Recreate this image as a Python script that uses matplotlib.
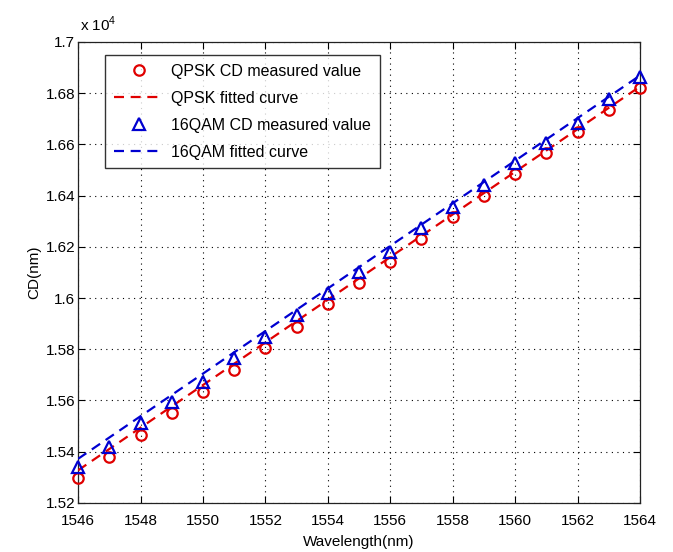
import matplotlib
matplotlib.use("Agg")
import matplotlib.pyplot as plt
import numpy as np

plt.rcParams['font.family'] = ['Liberation Sans', 'DejaVu Sans']

wavelength = [1546, 1547, 1548, 1549, 1550, 1551, 1552, 1553, 1554, 1555,
              1556, 1557, 1558, 1559, 1560, 1561, 1562, 1563, 1564]
qpsk_cd = [15298, 15380, 15466, 15552, 15634, 15720, 15805, 15888, 15977, 16059,
           16141, 16229, 16317, 16399, 16485, 16567, 16649, 16735, 16821]
qam16_cd = [15340, 15419, 15513, 15595, 15673, 15766, 15848, 15934, 16020, 16102,
            16180, 16274, 16356, 16442, 16528, 16606, 16684, 16778, 16864]
fit_wavelength = [1546, 1564]
qpsk_fit = [15327, 16826]
qam16_fit = [15372, 16869]

x_ticks = [1546, 1548, 1550, 1552, 1554, 1556, 1558, 1560, 1562, 1564]
y_ticks = [15200, 15400, 15600, 15800, 16000, 16200, 16400, 16600, 16800, 17000]
y_tick_labels = ['1.52', '1.54', '1.56', '1.58', '1.6', '1.62', '1.64', '1.66', '1.68', '1.7']

red = '#e00000'
blue = '#0000d0'
fs = 11

fig = plt.figure(figsize=(6.73, 5.52), dpi=100)
ax = fig.add_axes([0.116, 0.089, 0.835, 0.835])

ax.plot(wavelength, qpsk_cd, linestyle='none', marker='o', markersize=7.5,
        markerfacecolor='none', markeredgecolor=red, markeredgewidth=1.6,
        label='QPSK CD measured value', clip_on=False, zorder=3)
ax.plot(fit_wavelength, qpsk_fit, color=red, linestyle=(0, (4.5, 3)), linewidth=1.6,
        label='QPSK fitted curve', zorder=3)
ax.plot(wavelength, qam16_cd, linestyle='none', marker='^', markersize=8,
        markerfacecolor='none', markeredgecolor=blue, markeredgewidth=1.6,
        label='16QAM CD measured value', clip_on=False, zorder=3)
ax.plot(fit_wavelength, qam16_fit, color=blue, linestyle=(0, (4.5, 3)), linewidth=1.6,
        label='16QAM fitted curve', zorder=3)

ax.set_xlim(1546, 1564)
ax.set_ylim(15200, 17000)
ax.set_xticks(x_ticks)
ax.set_xticklabels([str(v) for v in x_ticks])
ax.set_yticks(y_ticks)
ax.set_yticklabels(y_tick_labels)
ax.tick_params(axis='both', direction='in', top=True, right=True, length=5, width=0.8,
               labelsize=fs, colors='black')
ax.tick_params(axis='x', pad=8)
ax.tick_params(axis='y', pad=2)
ax.grid(True, color='black', linestyle=(0, (1, 4)), linewidth=0.8)
for s in ax.spines.values():
    s.set_linewidth(0.9)
    s.set_color('#222222')

ax.set_xlabel('Wavelength(nm)', fontsize=fs, labelpad=5)
ax.set_ylabel('CD(nm)', fontsize=fs, labelpad=3)

ax.text(0.004, 1.018, r'x 10$^{\mathregular{4}}$', transform=ax.transAxes,
        fontsize=fs, ha='left', va='bottom')

leg = ax.legend(loc='upper left', bbox_to_anchor=(0.048, 0.972), borderaxespad=0,
                fontsize=11.5, frameon=True, fancybox=False, edgecolor='black',
                handlelength=3.1, handletextpad=0.5, labelspacing=0.75,
                borderpad=0.55, markerscale=1.0)
leg.get_frame().set_linewidth(1.0)

fig.savefig('out.png', dpi=100)
